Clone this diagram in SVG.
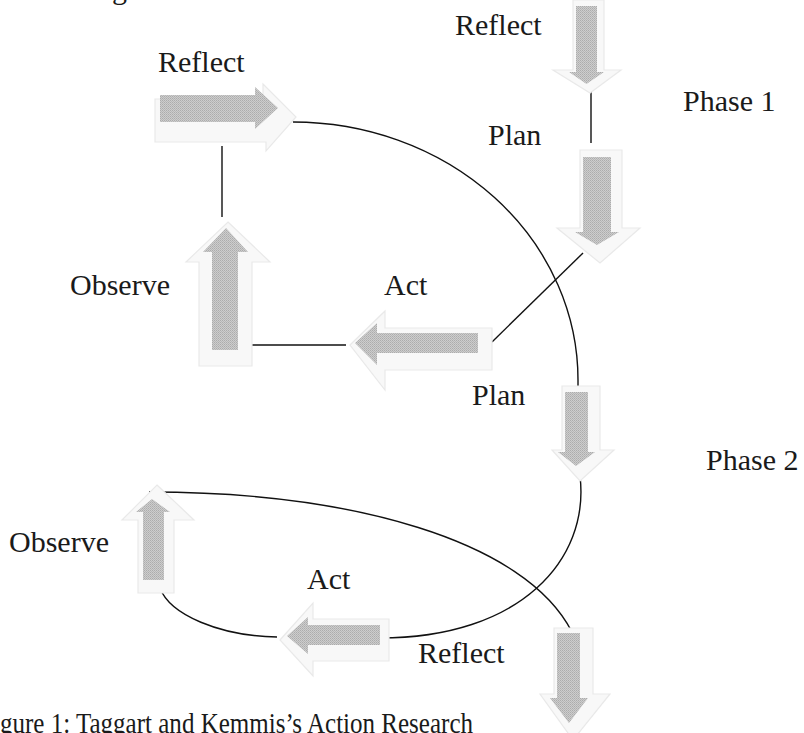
<svg xmlns="http://www.w3.org/2000/svg" width="804" height="733" viewBox="0 0 804 733">
<defs>
<pattern id="stip" width="2" height="2" patternUnits="userSpaceOnUse">
<rect width="2" height="2" fill="#cdcdcd"/>
<rect width="1" height="1" fill="#acacac"/>
<rect x="1" y="1" width="1" height="1" fill="#b7b7b7"/>
</pattern>
</defs>
<style>
.lbl{font-family:"Liberation Serif","Times New Roman",serif;font-size:30px;fill:#1a1a1a}
.halo{fill:#f8f8f8;stroke:#e9e9e9;stroke-width:1.2}
.arr{fill:url(#stip)}
.con{fill:none;stroke:#111;stroke-width:1.4}
</style>
<rect width="804" height="733" fill="#ffffff"/>
<g id="connectors">
<path class="con" d="M591,90 L591,143"/>
<path class="con" d="M222,146 L222,217"/>
<path class="con" d="M248,345 L346,345"/>
<path class="con" d="M492,342 L583,253"/>
<path class="con" d="M293,122 A285 258 0 0 1 578,380 L578,392"/>
<path class="con" d="M580,476 C590,560 520,638 380,638"/>
<path class="con" d="M277,637 C220,636 170,615 160,588"/>
<path class="con" d="M149,492 C350,492 525,540 572,632"/>
</g>
<g id="reflect-top">
<polygon class="halo" points="573,0 604,0 604,70 621,70 590,93 553,70 573,70"/>
<polygon class="arr" points="576,6 597,6 597,72 604,72 586.5,84 569,72 576,72"/>
<text class="lbl" x="455" y="35">Reflect</text>
</g>
<g id="phase1"><text class="lbl" x="683" y="111">Phase 1</text></g>
<g id="plan1">
<polygon class="halo" points="580,150 622,150 622,228 640,228 600,263 557,228 580,228"/>
<polygon class="arr" points="583,157 611,157 611,232 619,232 597,245 575,232 583,232"/>
<text class="lbl" x="488" y="145">Plan</text>
</g>
<g id="reflect1">
<polygon class="halo" points="155,99 263,99 263,84 296,117 266,151 266,142 155,142"/>
<polygon class="arr" points="160,95 255,95 255,87 278,108 255,129 255,122 160,122"/>
<text class="lbl" x="158" y="72">Reflect</text>
</g>
<g id="observe1">
<polygon class="halo" points="228,222 270,262 252,262 252,366 199,366 199,262 186,262"/>
<polygon class="arr" points="226,228 248,252 238,252 238,350 212,350 212,252 203,252"/>
<text class="lbl" x="70" y="295">Observe</text>
</g>
<g id="act1">
<polygon class="halo" points="350,345 385,311 385,328 492,328 492,370 385,370 385,390"/>
<polygon class="arr" points="355,343 377,323 377,333 478,333 478,353 377,353 377,365"/>
<text class="lbl" x="384" y="295">Act</text>
</g>
<g id="plan2">
<polygon class="halo" points="562,386 600,386 600,450 614,450 580,481 552,450 562,450"/>
<polygon class="arr" points="565,392 588,392 588,452 595,452 576,466 558,452 565,452"/>
<text class="lbl" x="472" y="405">Plan</text>
</g>
<g id="phase2"><text class="lbl" x="706" y="470">Phase 2</text></g>
<g id="observe2">
<polygon class="halo" points="157,485 194,520 174,520 174,593 138,593 138,520 122,520"/>
<polygon class="arr" points="152,499 170,512 164,512 164,580 143,580 143,512 136,512"/>
<text class="lbl" x="9" y="552">Observe</text>
</g>
<g id="act2">
<polygon class="halo" points="280,640 313,603 313,619 389,619 389,661 313,661 313,676"/>
<polygon class="arr" points="287,636 308,617 308,625 380,625 380,645 308,645 308,654"/>
<text class="lbl" x="307" y="589">Act</text>
</g>
<g id="reflect2">
<polygon class="halo" points="554,628 593,628 593,694 610,694 573,740 540,694 554,694"/>
<polygon class="arr" points="557,633 580,633 580,698 588,698 569,723 550,698 557,698"/>
<text class="lbl" x="418" y="663">Reflect</text>
</g>
<g id="caption">
<text class="lbl" x="112" y="-1">g</text>
<text class="lbl" x="0" y="733" textLength="473" lengthAdjust="spacingAndGlyphs">gure 1: Taggart and Kemmis’s Action Research</text>
</g>
</svg>
